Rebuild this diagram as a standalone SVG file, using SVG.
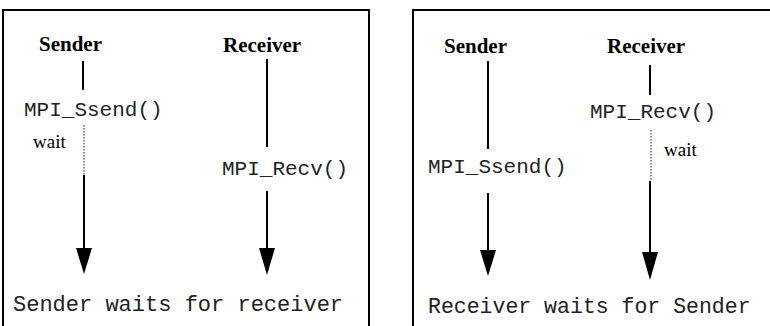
<svg xmlns="http://www.w3.org/2000/svg" width="770" height="326" viewBox="0 0 770 326">
<style>
.frame{fill:none;stroke:#000;stroke-width:2}
.hd{font-family:"Liberation Serif",serif;font-weight:bold;font-size:21px;fill:#000}
.wt{font-family:"Liberation Serif",serif;font-size:19px;fill:#000}
.code{font-family:"Liberation Mono",monospace;font-size:21px;fill:#222}
.cap{font-family:"Liberation Mono",monospace;font-size:22px;fill:#222}
.ln{stroke:#000;stroke-width:2;fill:none}
.dot{stroke:#666;stroke-width:1.5;stroke-dasharray:1.5,1.5;fill:none}
.head{fill:#000}
</style>
<rect width="770" height="326" fill="#fff"/>
<g id="panel-left">
  <rect class="frame" x="3" y="10" width="366" height="340"/>
  <text class="cap" x="13" y="311">Sender waits for receiver</text>
</g>
<g id="panel-right">
  <rect class="frame" x="413" y="10" width="400" height="340"/>
  <text class="cap" x="428" y="313" style="font-size:21.5px">Receiver waits for Sender</text>
</g>
<g id="l-sender"><text class="hd" x="39" y="51">Sender</text></g>
<g id="l-receiver"><text class="hd" x="223" y="52">Receiver</text></g>
<g id="l-ssend"><text class="code" x="24" y="116">MPI_Ssend()</text></g>
<g id="l-recv"><text class="code" x="222" y="175">MPI_Recv()</text></g>
<g id="l-wait"><text class="wt" x="33" y="148">wait</text></g>
<g id="r-sender"><text class="hd" x="444" y="53">Sender</text></g>
<g id="r-receiver"><text class="hd" x="607" y="53">Receiver</text></g>
<g id="r-ssend"><text class="code" x="428" y="173">MPI_Ssend()</text></g>
<g id="r-recv"><text class="code" x="590" y="118">MPI_Recv()</text></g>
<g id="r-wait"><text class="wt" x="664" y="156">wait</text></g>
<g id="connectors">
  <line class="ln" x1="83" y1="61" x2="83" y2="90"/>
  <line class="dot" x1="84" y1="125" x2="84" y2="175"/>
  <line class="ln" x1="84" y1="175" x2="84" y2="250"/>
  <polygon class="head" points="76,248 92,248 84,274"/>
  <line class="ln" x1="267" y1="59" x2="267" y2="147"/>
  <line class="ln" x1="267" y1="191" x2="267" y2="250"/>
  <polygon class="head" points="259,248 275,248 267,275"/>
  <line class="ln" x1="488" y1="61" x2="488" y2="149"/>
  <line class="ln" x1="488" y1="193" x2="488" y2="252"/>
  <polygon class="head" points="480,250 496,250 488,276"/>
  <line class="ln" x1="650" y1="65" x2="650" y2="95"/>
  <line class="dot" x1="651" y1="130" x2="651" y2="181"/>
  <line class="ln" x1="650" y1="181" x2="650" y2="254"/>
  <polygon class="head" points="642,252 658,252 650,280"/>
</g>
</svg>
